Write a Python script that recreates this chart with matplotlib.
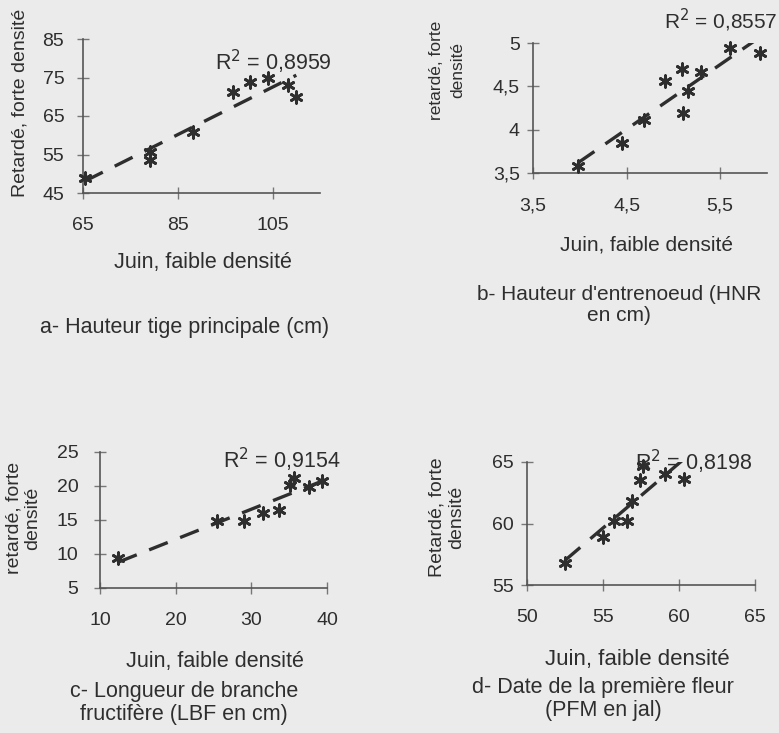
import numpy as np
import matplotlib
matplotlib.use("Agg")
import matplotlib.pyplot as plt

plt.rcParams['font.family'] = ['Liberation Sans', 'DejaVu Sans']

# ---- data ----
a_x = [65.4, 79.1, 79.1, 88.2, 96.6, 100.2, 104.0, 108.2, 110.0]
a_y = [48.8, 55.7, 53.6, 60.9, 71.3, 73.9, 74.8, 73.1, 70.0]
a_r2 = "0,8959"

b_x = [3.98, 4.45, 4.69, 4.91, 5.09, 5.10, 5.16, 5.30, 5.60, 5.92]
b_y = [3.58, 3.85, 4.11, 4.56, 4.70, 4.19, 4.45, 4.67, 4.94, 4.88]
b_r2 = "0,8557"

c_x = [12.4, 25.4, 29.0, 31.6, 33.6, 35.1, 35.6, 37.6, 39.3]
c_y = [9.4, 14.8, 14.8, 16.0, 16.5, 20.2, 21.2, 19.9, 20.7]
c_r2 = "0,9154"

d_x = [52.5, 55.0, 55.7, 56.6, 56.9, 57.45, 57.6, 59.1, 60.3]
d_y = [56.75, 58.9, 60.2, 60.2, 61.85, 63.5, 64.7, 64.0, 63.6]
d_r2 = "0,8198"

a_xticks = [65, 85, 105]; a_xlabels = ["65", "85", "105"]
a_yticks = [45, 55, 65, 75, 85]; a_ylabels = ["45", "55", "65", "75", "85"]
b_xticks = [3.5, 4.5, 5.5]; b_xlabels = ["3,5", "4,5", "5,5"]
b_yticks = [3.5, 4.0, 4.5, 5.0]; b_ylabels = ["3,5", "4", "4,5", "5"]
c_xticks = [10, 20, 30, 40]; c_xlabels = ["10", "20", "30", "40"]
c_yticks = [5, 10, 15, 20, 25]; c_ylabels = ["5", "10", "15", "20", "25"]
d_xticks = [50, 55, 60, 65]; d_xlabels = ["50", "55", "60", "65"]
d_yticks = [55, 60, 65]; d_ylabels = ["55", "60", "65"]

W, H = 779, 733
BG = '#ebebeb'
FG = '#2e2e2e'
fig = plt.figure(figsize=(W / 100, H / 100), dpi=100, facecolor=BG)


def box(l, t, r, b):
    return [l / W, 1 - b / H, (r - l) / W, (b - t) / H]


def panel(rect, xs, ys, xlim, ylim, xt, xl, yt, yl, ypad):
    ax = fig.add_axes(box(*rect))
    ax.set_facecolor('none')
    for s in ['top', 'right']:
        ax.spines[s].set_visible(False)
    for s in ['left', 'bottom']:
        ax.spines[s].set_color('#555555')
        ax.spines[s].set_linewidth(1.2)
    ax.set_xlim(*xlim)
    ax.set_ylim(*ylim)
    ax.set_xticks(xt, xl)
    ax.set_yticks(yt, yl)
    ax.tick_params(direction='inout', length=9, width=1.0, colors='#777777',
                   labelcolor=FG, labelsize=14)
    ax.tick_params(axis='x', pad=13)
    ax.tick_params(axis='y', pad=ypad)
    xs = np.asarray(xs); ys = np.asarray(ys)
    k, m = np.polyfit(xs, ys, 1)
    xx = np.array([xs.min(), xs.max()])
    ax.plot(xx, k * xx + m, color=FG, lw=2.4, ls=(0, (6, 4)), zorder=2)
    ax.scatter(xs, ys, marker=(6, 2, 0), s=70, color=FG, linewidths=2.0,
               zorder=3, clip_on=False)
    return ax


panel((83, 39, 320, 193), a_x, a_y, (65, 115), (45, 85),
      a_xticks, a_xlabels, a_yticks, a_ylabels, 9)
panel((533, 43, 767, 173), b_x, b_y, (3.5, 6.0), (3.5, 5.0),
      b_xticks, b_xlabels, b_yticks, b_ylabels, 5)
panel((100, 452, 327, 588), c_x, c_y, (10, 40), (5, 25),
      c_xticks, c_xlabels, c_yticks, c_ylabels, 11)
panel((527, 462, 755, 585), d_x, d_y, (50, 65), (55, 65),
      d_xticks, d_xlabels, d_yticks, d_ylabels, 5)


def t(x, y, s, size=15.5, rot=0, ls=1.2):
    fig.text(x / W, 1 - y / H, s, ha='center', va='center', fontsize=size,
             color=FG, rotation=rot, multialignment='center', linespacing=ls)


# panel a
t(20, 103, "Retardé, forte densité", 14, 90)
t(273, 62, "R$^2$ = " + a_r2)
t(203, 262, "Juin, faible densité")
t(185, 328, "a- Hauteur tige principale (cm)")

# panel b
t(447, 70, "retardé, forte\ndensité", 12.5, 90, 1.5)
t(721, 20, "R$^2$ = " + b_r2, 15)
t(647, 245, "Juin, faible densité", 15)
t(619, 305, "b- Hauteur d'entrenoeud (HNR\nen cm)", 15, 0, 1.15)

# panel c
t(23, 518, "retardé, forte\ndensité", 14, 90, 1.15)
t(282, 460, "R$^2$ = " + c_r2)
t(215, 662, "Juin, faible densité")
t(184, 703, "c- Longueur de branche\nfructifère (LBF en cm)", 15.5, 0, 1.15)

# panel d
t(447, 517, "Retardé, forte\ndensité", 14, 90, 1.2)
t(694, 462, "R$^2$ = " + d_r2)
t(637, 660, "Juin, faible densité", 16)
t(603, 699, "d- Date de la première fleur\n(PFM en jal)", 15.5, 0, 1.15)

fig.savefig("out.png", dpi=100, facecolor=BG)
